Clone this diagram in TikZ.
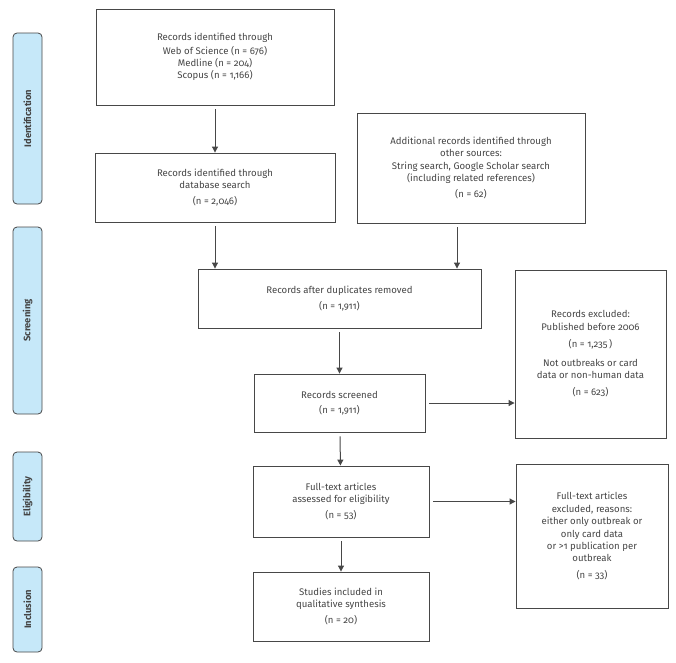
\documentclass[tikz,border=0pt]{standalone}
\usepackage{fontspec}
\setmainfont{Fira Sans}[Numbers=OldStyle]
\usetikzlibrary{arrows.meta, calc}

\definecolor{stagefill}{HTML}{C6E8F9}
\definecolor{linegray}{HTML}{474747}
\definecolor{textgray}{HTML}{454545}

\begin{document}
\begin{tikzpicture}[
    x=1pt, y=-1pt,
    font=\fontsize{9.6}{12.4}\selectfont, text=textgray,
    box/.style   = {draw=linegray, line width=0.9pt, align=center, inner sep=2pt},
    stage/.style = {draw=linegray, fill=stagefill, line width=0.8pt, rounded corners=4pt,
                    minimum width=29pt, inner sep=0pt},
    stagetxt/.style = {rotate=90, font=\fontsize{9.4}{10}\selectfont\bfseries},
    arr/.style   = {draw=linegray, line width=1pt, shorten <=4pt,
                    -{Triangle[length=6pt, width=6pt]}},
  ]

  % ---------- frame ----------
  \useasboundingbox (0,0) rectangle (676,662);

  % ---------- stages on the left ----------
  \node[stage, minimum height=171pt] (ident) at (27.5,118.5) {};
  \node[stagetxt] at (ident) {Identification};
  \node[stage, minimum height=187pt] (screen) at (27.5,320.5) {};
  \node[stagetxt] at (screen) {Screening};
  \node[stage, minimum height=89pt] (elig) at (27.5,496.5) {};
  \node[stagetxt] at (elig) {Eligibility};
  \node[stage, minimum height=85pt] (incl) at (27.5,609.5) {};
  \node[stagetxt] at (incl) {Inclusion};

  % ---------- identification ----------
  \node[box, minimum width=238pt, minimum height=96pt] (src) at (215,57)
    {Records identified through\\[1pt]
     Web of Science (n = 676)\\ Medline (n = 204)\\ Scopus (n = 1,166)};
  \node[box, minimum width=240pt, minimum height=69pt] (db) at (215,187.5)
    {Records identified through\\ database search\\[4pt] (n = 2,046)};
  \node[box, minimum width=228pt, minimum height=110pt] (other) at (471,168)
    {Additional records identified through\\ other sources:\\
     String search, Google Scholar search\\ (including related references)\\[4pt]
     (n = 62)};

  % ---------- screening ----------
  \node[box, minimum width=283pt, minimum height=59pt] (dup) at (339.5,298.5)
    {Records after duplicates removed\\[3pt] (n = 1,911)};
  \node[box, minimum width=171pt, minimum height=58pt] (scr) at (339.5,403)
    {Records screened\\[2pt] (n = 1,911)};
  \node[box, minimum width=151pt, minimum height=168pt] (excl) at (590.5,354)
    {Records excluded:\\ Published before 2006\\[5pt] (n = 1,235\,)\\[6pt]
     Not outbreaks or card\\ data or non-human data\\[5pt] (n = 623)};

  % ---------- eligibility / inclusion ----------
  \node[box, minimum width=176pt, minimum height=71pt] (full) at (341,501.5)
    {Full-text articles\\ assessed for eligibility\\[4pt] (n = 53)};
  \node[box, minimum width=176pt, minimum height=69pt] (study) at (341,606.5)
    {Studies included in\\ qualitative synthesis\\[4pt] (n = 20)};
  \node[box, minimum width=152pt, minimum height=144pt] (ftexcl) at (592,536)
    {Full-text articles\\ excluded, reasons:\\ either only outbreak or\\
     only card data\\ or \textgreater 1 publication per\\ outbreak\\[4pt] (n = 33)};

  % ---------- arrows ----------
  \draw[arr] (src) -- (db);
  \draw[arr] (db) -- (db |- dup.north);
  \draw[arr] ([xshift=-14pt]other.south) -- ([xshift=-14pt]other.south |- dup.north);
  \draw[arr] (dup) -- (scr);
  \draw[arr] (scr.east) -- (scr.east -| excl.west);
  \draw[arr] (scr) -- (full);
  \draw[arr] (full.east) -- (full.east -| ftexcl.west);
  \draw[arr] (full) -- (study);

\end{tikzpicture}
\end{document}
